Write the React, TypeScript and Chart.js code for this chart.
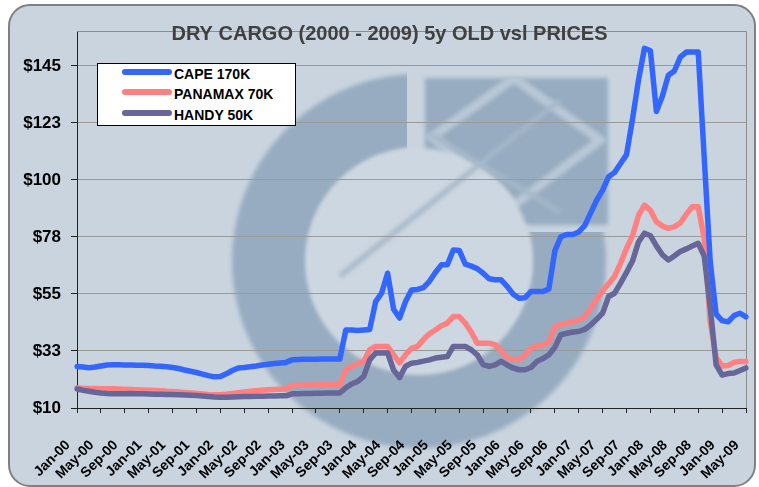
import React, { useEffect, useRef } from 'react';
import { Chart, registerables } from 'chart.js';

Chart.register(...registerables);

// ---------- data ----------
const MONTH_NAMES = ['Jan', 'Feb', 'Mar', 'Apr', 'May', 'Jun', 'Jul', 'Aug', 'Sep', 'Oct', 'Nov', 'Dec'];
const categories: string[] = [];
for (let y = 0; y <= 9; y++) {
  for (let m = 0; m < 12; m++) {
    if (y === 9 && m > 4) break;
    categories.push(`${MONTH_NAMES[m]}-${String(y).padStart(2, '0')}`);
  }
}

const cape = [
  26.4, 26.2, 25.9, 26.2, 26.6, 27.0,
  27.1, 27.1, 27.0, 27.0, 26.9, 26.9,
  26.8, 26.6, 26.5, 26.3, 26.0, 25.6,
  25.0, 24.5, 24.0, 23.4, 22.8, 22.3,
  22.4, 23.5, 24.8, 25.8, 26.0, 26.3,
  26.6, 27.0, 27.3, 27.6, 27.8, 28.0,
  29.0, 29.1, 29.2, 29.2, 29.2, 29.3,
  29.3, 29.3, 29.3, 40.8, 40.8, 40.6,
  40.8, 41.0, 52.0, 55.4, 63.2, 49.0,
  45.5, 52.0, 56.6, 56.8, 57.5, 60.0,
  63.5, 66.5, 66.5, 72.4, 72.2, 66.8,
  66.0, 65.0, 63.2, 61.0, 60.6, 60.6,
  58.0, 55.0, 53.3, 53.5, 56.0, 56.0,
  56.0, 57.0, 72.0, 77.6, 78.5, 78.5,
  79.5, 82.0, 87.0, 92.0, 96.0, 101.3,
  103.0, 106.5, 110.0, 124.0, 139.4, 152.0,
  151.0, 127.0, 133.0, 141.3, 143.0, 148.5,
  150.5, 150.5, 150.5, 109.0, 68.0, 47.0,
  44.5, 44.0, 46.5, 47.4, 46.0,
];

const panamax = [
  17.9, 17.8, 17.7, 17.7, 17.6, 17.6,
  17.6, 17.5, 17.4, 17.3, 17.2, 17.1,
  17.0, 16.9, 16.8, 16.6, 16.5, 16.3,
  16.1, 15.9, 15.7, 15.5, 15.3, 15.2,
  15.2, 15.4, 15.7, 16.0, 16.3, 16.6,
  16.8, 17.0, 17.2, 17.3, 17.4, 17.5,
  18.9, 19.0, 19.0, 19.1, 19.1, 19.2,
  19.2, 19.2, 19.2, 25.0, 26.4, 27.5,
  28.4, 33.0, 34.3, 34.3, 34.3, 31.0,
  27.8, 31.0, 33.5, 34.3, 37.0, 39.3,
  40.8, 42.5, 43.5, 46.1, 46.1, 43.5,
  40.0, 35.6, 35.6, 35.6, 35.0, 32.5,
  30.0, 29.2, 29.0, 31.0, 33.6, 34.5,
  34.9, 36.0, 42.0, 43.0, 43.5, 44.0,
  44.8, 46.0, 49.4, 53.0, 56.3, 59.0,
  62.0, 67.1, 73.0, 78.0, 86.0, 90.1,
  88.0, 83.5, 81.8, 80.9, 81.5, 83.0,
  86.5, 89.4, 89.4, 77.0, 44.0, 30.0,
  26.6, 26.8, 28.0, 28.4, 28.4,
];

const handy = [
  17.5, 17.0, 16.6, 16.2, 15.9, 15.7,
  15.6, 15.6, 15.6, 15.7, 15.6, 15.6,
  15.5, 15.4, 15.4, 15.3, 15.3, 15.2,
  15.1, 15.0, 14.9, 14.7, 14.5, 14.3,
  14.2, 14.2, 14.3, 14.4, 14.5, 14.5,
  14.6, 14.6, 14.7, 14.7, 14.8, 14.8,
  15.6, 15.6, 15.7, 15.7, 15.8, 15.8,
  15.9, 15.9, 15.9, 18.0, 19.5, 20.5,
  22.5, 29.0, 31.7, 31.7, 31.7, 25.0,
  22.0, 26.5, 27.7, 28.0, 28.5, 29.0,
  29.7, 30.0, 30.3, 34.3, 34.3, 34.3,
  33.0, 31.0, 27.1, 26.4, 27.0, 28.4,
  27.0, 25.8, 25.1, 25.1, 26.0, 28.4,
  29.5, 31.0, 34.0, 38.9, 39.5, 40.0,
  40.2, 41.0, 42.8, 45.0, 47.5, 54.0,
  55.3, 59.3, 63.5, 68.0, 75.5, 79.0,
  78.0, 74.0, 70.5, 68.4, 70.0, 71.8,
  72.8, 73.9, 75.0, 70.0, 50.0, 27.0,
  23.0, 23.6, 23.8, 24.8, 25.8,
];

const seriesNames = ['CAPE 170K', 'PANAMAX 70K', 'HANDY 50K'];
const seriesColors = ['#3366FF', '#FF8080', '#666699'];
const seriesData = [cape, panamax, handy];
const seriesOrder = [0, 2, 1]; // Handy drawn over Panamax, Cape on top

const yTicks = [10, 32.5, 55, 77.5, 100, 122.5, 145];
const yMin = 10;
const yMax = 158.8;
const xLabelEvery = 4;

const TITLE = 'DRY CARGO (2000 - 2009) 5y OLD vsl PRICES';
const FONT = 'Arial, "Liberation Sans", Helvetica, sans-serif';

const W = 759;
const H = 487;

// ---------- plugins ----------
const watermarkPlugin = {
  id: 'watermark',
  beforeDraw(chart: any) {
    const ctx = chart.ctx as CanvasRenderingContext2D;
    const dark = '#97acc0';
    const light = '#cdd7e1';
    const cx = 419, cy = 261, Ro = 187, Ri = 113;
    ctx.save();
    ctx.filter = 'blur(2px)';
    // ring (without top-right quadrant)
    ctx.save();
    ctx.beginPath();
    ctx.rect(0, 0, W, H);
    ctx.rect(407, 0, W, 232);
    ctx.clip('evenodd');
    ctx.fillStyle = dark;
    ctx.beginPath();
    ctx.arc(cx, cy, Ro, 0, Math.PI * 2);
    ctx.arc(cx, cy, Ri, 0, Math.PI * 2, true);
    ctx.fill();
    ctx.restore();
    // square block
    ctx.fillStyle = dark;
    ctx.fillRect(425, 78, 183, 147);
    // diamond in square (light)
    ctx.save();
    ctx.beginPath();
    ctx.rect(425, 78, 183, 147);
    ctx.clip();
    ctx.strokeStyle = '#b9c8d7';
    ctx.lineWidth = 9;
    ctx.beginPath();
    ctx.moveTo(432, 137);
    ctx.lineTo(514, 78);
    ctx.lineTo(600, 140);
    ctx.lineTo(514, 205);
    ctx.closePath();
    ctx.stroke();
    ctx.restore();
    // inner light circle
    ctx.fillStyle = light;
    ctx.beginPath();
    ctx.arc(cx, cy, Ri, 0, Math.PI * 2);
    ctx.fill();
    // X lines
    ctx.save();
    ctx.beginPath();
    ctx.arc(cx, cy, Ri, 0, Math.PI * 2);
    ctx.rect(425, 78, 183, 147);
    ctx.clip();
    ctx.strokeStyle = '#a6b8c9';
    ctx.lineWidth = 5;
    ctx.beginPath();
    ctx.moveTo(340, 276);
    ctx.lineTo(560, 100);
    ctx.moveTo(430, 134);
    ctx.lineTo(560, 212);
    ctx.stroke();
    ctx.restore();
    ctx.restore();
  },
};

const frameTitlePlugin = {
  id: 'frameTitle',
  beforeDatasetsDraw(chart: any) {
    const { ctx, chartArea } = chart;
    ctx.save();
    ctx.strokeStyle = '#8c8c8c';
    ctx.lineWidth = 1;
    ctx.beginPath();
    ctx.moveTo(chartArea.left, Math.round(chartArea.top) + 0.5);
    ctx.lineTo(Math.round(chartArea.right) + 0.5, Math.round(chartArea.top) + 0.5);
    ctx.lineTo(Math.round(chartArea.right) + 0.5, chartArea.bottom);
    ctx.stroke();
    ctx.restore();
  },
  afterDraw(chart: any) {
    const ctx = chart.ctx as CanvasRenderingContext2D;
    ctx.save();
    ctx.font = `bold 20px ${FONT}`;
    ctx.fillStyle = '#404040';
    ctx.textAlign = 'center';
    ctx.textBaseline = 'alphabetic';
    ctx.fillText(TITLE, 389.5, 40);
    ctx.restore();
  },
};

// ---------- component ----------
export default function App() {
  const canvasRef = useRef<HTMLCanvasElement | null>(null);

  useEffect(() => {
    if (!canvasRef.current) return;
    const chart = new Chart(canvasRef.current, {
      type: 'line',
      data: {
        labels: categories,
        datasets: seriesNames.map((name, i) => ({
          label: name,
          data: seriesData[i],
          borderColor: seriesColors[i],
          backgroundColor: seriesColors[i],
          borderWidth: 5.5,
          pointRadius: 0,
          tension: 0,
          fill: false,
          order: seriesOrder[i],
          borderJoinStyle: 'round' as const,
          borderCapStyle: 'round' as const,
        })),
      },
      options: {
        animation: false,
        responsive: false,
        devicePixelRatio: 1,
        layout: { padding: { top: 31, right: 13, left: 0, bottom: 0 } },
        plugins: {
          legend: { display: false },
          title: { display: false },
          tooltip: { enabled: false },
        },
        scales: {
          x: {
            type: 'category',
            offset: false,
            afterBuildTicks(scale: any) {
              scale.ticks = scale.ticks.filter((_t: any, i: number) => i % xLabelEvery === 0);
            },
            afterFit(scale: any) {
              scale.height = H - 408;
              scale.paddingLeft = 0;
              scale.paddingRight = 0;
            },
            grid: {
              display: true,
              drawOnChartArea: false,
              drawTicks: true,
              tickLength: 5,
              tickColor: '#222',
              color: '#222',
            },
            border: { display: true, color: '#222', width: 1 },
            ticks: {
              autoSkip: false,
              maxRotation: 45,
              minRotation: 45,
              padding: 24,
              labelOffset: -9,
              color: '#000',
              font: { family: FONT, size: 14, weight: 'bold' },
            },
          },
          y: {
            min: yMin,
            max: yMax,
            afterBuildTicks(scale: any) {
              scale.ticks = yTicks.map((v) => ({ value: v }));
            },
            afterFit(scale: any) {
              scale.width = 77;
            },
            grid: {
              display: true,
              color: '#999999',
              lineWidth: 1,
              drawTicks: true,
              tickLength: 6,
              tickColor: '#222',
            },
            border: { display: true, color: '#222', width: 1 },
            ticks: {
              padding: 10,
              color: '#000',
              font: { family: FONT, size: 17, weight: 'bold' },
              callback: (v: any) => '$' + Math.round(Number(v)),
            },
          },
        },
      },
      plugins: [watermarkPlugin, frameTitlePlugin],
    } as any);
    return () => chart.destroy();
  }, []);

  const legendRows = [71.7, 91.9, 113.3];

  return (
    <div style={{ position: 'fixed', left: 0, top: 0, width: W, height: H, background: '#ffffff', overflow: 'hidden' }}>
      <div
        style={{
          position: 'absolute',
          left: 8,
          top: 4,
          width: 748,
          height: 483,
          boxSizing: 'border-box',
          border: '2px solid #808080',
          borderRadius: 22,
          background: '#c9d4df',
        }}
      />
      <canvas
        ref={canvasRef}
        width={W}
        height={H}
        style={{ position: 'absolute', left: 0, top: 0, width: W, height: H }}
      />
      <div
        style={{
          position: 'absolute',
          left: 97,
          top: 63,
          width: 199,
          height: 63,
          boxSizing: 'border-box',
          border: '1px solid #000',
          background: '#ffffff',
        }}
      />
      {seriesNames.map((name, i) => (
        <React.Fragment key={name}>
          <div
            style={{
              position: 'absolute',
              left: 122,
              top: legendRows[i] - 3,
              width: 50,
              height: 6,
              borderRadius: 3,
              background: seriesColors[i],
            }}
          />
          <div
            style={{
              position: 'absolute',
              left: 174,
              top: legendRows[i] + 2 - 9,
              height: 18,
              lineHeight: '18px',
              fontFamily: FONT,
              fontWeight: 'bold',
              fontSize: 14,
              color: '#000',
              whiteSpace: 'nowrap',
            }}
          >
            {name}
          </div>
        </React.Fragment>
      ))}
    </div>
  );
}
